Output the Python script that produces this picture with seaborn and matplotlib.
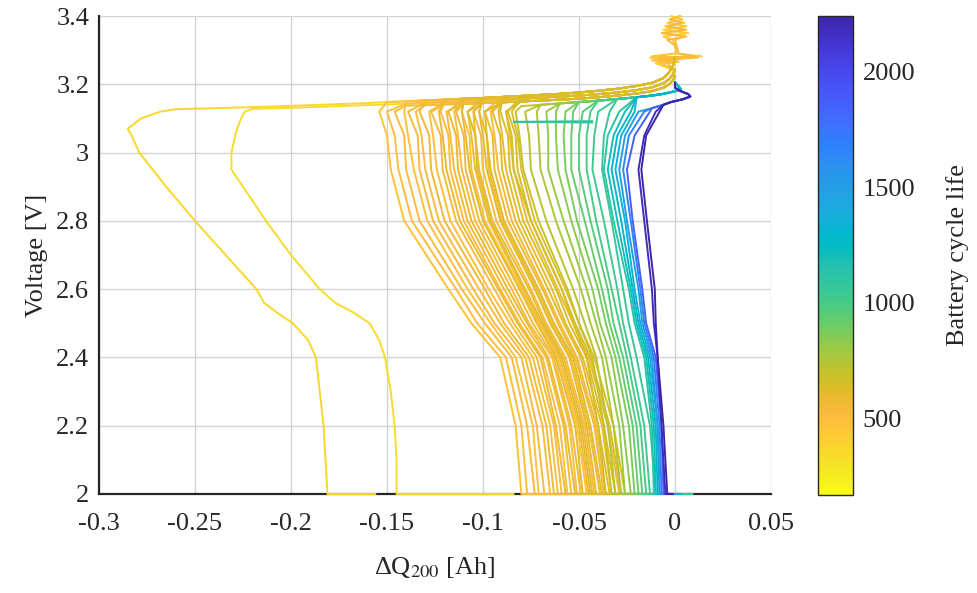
import numpy as np
import pandas as pd
import matplotlib
matplotlib.use("Agg")
import matplotlib.pyplot as plt
import seaborn as sns
from matplotlib.colors import LinearSegmentedColormap, Normalize
from matplotlib.cm import ScalarMappable

# ---------------- data ----------------
# two outlier cells (shortest lives), read on a finer voltage grid
OUTLIER_V = [2.0, 2.1, 2.2, 2.3, 2.4, 2.45, 2.5, 2.53, 2.56, 2.6, 2.7, 2.8, 2.9, 2.95, 3.0, 3.05, 3.07, 3.1, 3.12]
outlier_a_dq = [-0.181, -0.182, -0.183, -0.185, -0.187, -0.191, -0.199, -0.207, -0.214, -0.218, -0.234, -0.250,
                -0.265, -0.272, -0.279, -0.283, -0.285, -0.278, -0.268]
outlier_b_dq = [-0.145, -0.145, -0.146, -0.148, -0.151, -0.154, -0.159, -0.167, -0.177, -0.185, -0.200, -0.213,
                -0.225, -0.231, -0.231, -0.229, -0.228, -0.226, -0.224]
outlier_cycle = [350, 330]
outlier_tail_end = [-0.156, -0.084]

# main bundle, read at these voltage levels
V_LEVELS = [2.00, 2.20, 2.40, 2.50, 2.60, 2.80, 2.95, 3.05, 3.12]

cycle_life = [470, 500, 520, 480, 540, 510, 560, 490, 530, 575, 505, 545, 590, 520, 560, 600,
              480, 550, 615, 580, 530, 600, 560, 620, 570, 540, 610, 590, 630, 580, 650, 620,
              660, 700, 730, 760, 800, 840, 880, 920, 960, 1000, 1030, 1060,
              1120, 1200, 1280, 1350,
              1500, 1650, 1850,
              2237, 2180]

dq_v200 = [-0.080, -0.077, -0.073, -0.071, -0.068, -0.065, -0.063, -0.061, -0.059, -0.057, -0.056, -0.054, -0.052, -0.051, -0.049, -0.048,
           -0.046, -0.045, -0.044, -0.043, -0.042, -0.041, -0.039, -0.038, -0.037, -0.036, -0.034, -0.033, -0.031, -0.029, -0.028, -0.026,
           -0.036, -0.033, -0.031, -0.028, -0.026, -0.023, -0.021, -0.019, -0.017, -0.015, -0.013, -0.010,
           -0.011, -0.010, -0.009, -0.008,
           -0.008, -0.007, -0.006,
           -0.004, -0.005]
dq_v220 = [-0.083, -0.080, -0.077, -0.074, -0.072, -0.069, -0.067, -0.065, -0.063, -0.062, -0.060, -0.058, -0.057, -0.055, -0.054, -0.052,
           -0.051, -0.050, -0.049, -0.048, -0.047, -0.046, -0.045, -0.044, -0.042, -0.041, -0.040, -0.038, -0.037, -0.035, -0.034, -0.032,
           -0.040, -0.037, -0.035, -0.032, -0.029, -0.027, -0.024, -0.022, -0.020, -0.018, -0.016, -0.013,
           -0.012, -0.011, -0.010, -0.009,
           -0.009, -0.008, -0.007,
           -0.006, -0.007]
dq_v240 = [-0.091, -0.088, -0.085, -0.083, -0.080, -0.078, -0.076, -0.074, -0.072, -0.070, -0.069, -0.067, -0.066, -0.064, -0.063, -0.062,
           -0.061, -0.060, -0.059, -0.058, -0.057, -0.055, -0.054, -0.053, -0.052, -0.051, -0.049, -0.048, -0.046, -0.045, -0.044, -0.042,
           -0.046, -0.043, -0.041, -0.038, -0.036, -0.033, -0.031, -0.029, -0.027, -0.025, -0.023, -0.020,
           -0.016, -0.015, -0.014, -0.013,
           -0.012, -0.011, -0.010,
           -0.009, -0.009]
dq_v250 = [-0.106, -0.103, -0.099, -0.096, -0.094, -0.091, -0.089, -0.086, -0.084, -0.082, -0.081, -0.079, -0.077, -0.076, -0.074, -0.072,
           -0.071, -0.070, -0.069, -0.068, -0.067, -0.065, -0.064, -0.063, -0.061, -0.060, -0.058, -0.057, -0.055, -0.053, -0.052, -0.050,
           -0.053, -0.050, -0.047, -0.044, -0.041, -0.039, -0.036, -0.034, -0.032, -0.029, -0.027, -0.024,
           -0.021, -0.020, -0.019, -0.018,
           -0.017, -0.016, -0.015,
           -0.010, -0.011]
dq_v260 = [-0.118, -0.114, -0.111, -0.108, -0.105, -0.102, -0.099, -0.097, -0.094, -0.092, -0.091, -0.089, -0.087, -0.085, -0.083, -0.081,
           -0.080, -0.079, -0.078, -0.076, -0.075, -0.073, -0.072, -0.071, -0.069, -0.068, -0.066, -0.064, -0.062, -0.061, -0.059, -0.057,
           -0.059, -0.056, -0.053, -0.049, -0.046, -0.043, -0.040, -0.038, -0.035, -0.033, -0.030, -0.027,
           -0.024, -0.023, -0.022, -0.021,
           -0.019, -0.018, -0.017,
           -0.0105, -0.012]
dq_v280 = [-0.141, -0.137, -0.133, -0.129, -0.126, -0.123, -0.120, -0.117, -0.114, -0.112, -0.110, -0.108, -0.106, -0.104, -0.102, -0.100,
           -0.099, -0.097, -0.096, -0.095, -0.093, -0.091, -0.090, -0.089, -0.087, -0.085, -0.083, -0.081, -0.079, -0.077, -0.075, -0.073,
           -0.075, -0.071, -0.067, -0.062, -0.058, -0.054, -0.051, -0.047, -0.044, -0.041, -0.037, -0.033,
           -0.032, -0.030, -0.028, -0.026,
           -0.025, -0.023, -0.022,
           -0.0146, -0.016]
dq_v295 = [-0.148, -0.144, -0.140, -0.136, -0.133, -0.130, -0.127, -0.124, -0.121, -0.119, -0.117, -0.115, -0.113, -0.111, -0.109, -0.107,
           -0.106, -0.104, -0.103, -0.102, -0.100, -0.098, -0.097, -0.096, -0.094, -0.092, -0.090, -0.088, -0.086, -0.084, -0.082, -0.080,
           -0.084, -0.079, -0.075, -0.070, -0.066, -0.061, -0.057, -0.054, -0.050, -0.046, -0.043, -0.038,
           -0.037, -0.035, -0.033, -0.031,
           -0.029, -0.027, -0.025,
           -0.0175, -0.019]
dq_v305 = [-0.150, -0.146, -0.141, -0.139, -0.134, -0.132, -0.128, -0.126, -0.122, -0.121, -0.118, -0.117, -0.114, -0.113, -0.110, -0.109,
           -0.107, -0.106, -0.104, -0.104, -0.101, -0.100, -0.098, -0.098, -0.095, -0.094, -0.091, -0.090, -0.087, -0.086, -0.083, -0.082,
           -0.085, -0.081, -0.076, -0.071, -0.066, -0.062, -0.058, -0.054, -0.050, -0.046, -0.042, -0.037,
           -0.035, -0.032, -0.030, -0.028,
           -0.026, -0.024, -0.021,
           -0.015, -0.016]
dq_v312 = [-0.154, -0.150, -0.146, -0.141, -0.139, -0.135, -0.133, -0.128, -0.127, -0.123, -0.122, -0.119, -0.118, -0.115, -0.114, -0.111,
           -0.111, -0.108, -0.108, -0.105, -0.105, -0.102, -0.102, -0.099, -0.099, -0.096, -0.095, -0.092, -0.091, -0.088, -0.087, -0.085,
           -0.088, -0.083, -0.078, -0.072, -0.067, -0.062, -0.057, -0.053, -0.048, -0.044, -0.040, -0.034,
           -0.029, -0.026, -0.023, -0.021,
           -0.019, -0.016, -0.013,
           -0.008, -0.010]
# end of the horizontal run each curve makes along 2.0 V
dq_tail_end = [-0.073] + [-0.002] * 31 + [0.009] * 12 + [0.003] * 4 + [-0.002] * 3 + [-0.001] * 2

# converging upper part (band between 3.12 and 3.28 V): upper edge, middle, lower edge
ENV_Q = [-0.28, -0.26, -0.24, -0.22, -0.20, -0.18, -0.16, -0.15, -0.14, -0.13, -0.12, -0.11, -0.10,
         -0.09, -0.08, -0.07, -0.06, -0.05, -0.04, -0.03, -0.02, -0.012, -0.006, -0.003, -0.001, 0.0]
ENV_V_TOP = [3.124, 3.127, 3.130, 3.133, 3.137, 3.141, 3.145, 3.148, 3.150, 3.153, 3.155, 3.158, 3.160,
             3.163, 3.166, 3.169, 3.172, 3.176, 3.181, 3.187, 3.195, 3.204, 3.218, 3.235, 3.255, 3.280]
ENV_V_MID = [3.120, 3.122, 3.125, 3.128, 3.131, 3.135, 3.139, 3.141, 3.143, 3.146, 3.148, 3.150, 3.153,
             3.155, 3.158, 3.161, 3.164, 3.167, 3.171, 3.176, 3.183, 3.191, 3.203, 3.215, 3.230, 3.245]
ENV_V_LOW = [3.118, 3.120, 3.122, 3.124, 3.127, 3.130, 3.133, 3.135, 3.137, 3.139, 3.141, 3.143, 3.145,
             3.147, 3.150, 3.152, 3.155, 3.158, 3.162, 3.167, 3.173, 3.180, 3.190, 3.200, 3.212, 3.225]
GREEN_Q = [-0.09, -0.08, -0.07, -0.06, -0.05, -0.04, -0.03, -0.02, -0.012, -0.006, -0.002, 0.001, 0.003, 0.002, 0.0]
GREEN_V = [3.132, 3.136, 3.140, 3.144, 3.148, 3.152, 3.157, 3.162, 3.167, 3.172, 3.177, 3.181, 3.186, 3.193, 3.205]
BLUE_Q = [-0.012, -0.006, -0.002, 0.004, 0.008, 0.007, 0.003, 0.0, 0.0]
BLUE_V = [3.130, 3.140, 3.148, 3.156, 3.164, 3.171, 3.180, 3.190, 3.205]

# spiky traces above 3.24 V
TOP_V = [3.24, 3.262, 3.266, 3.270, 3.274, 3.278, 3.282, 3.29, 3.31, 3.33, 3.34, 3.35, 3.36, 3.37, 3.38, 3.39, 3.40]
top_dq_1 = [0.0, -0.010, 0.001, -0.011, 0.002, -0.013, 0.014, 0.001, 0.000, -0.001, -0.006, 0.007, -0.006, 0.006, -0.004, 0.004, -0.002]
top_dq_2 = [0.0, -0.007, 0.002, -0.012, 0.001, 0.012, -0.012, 0.000, 0.001, 0.000, 0.005, -0.007, 0.006, -0.005, 0.005, -0.003, 0.003]
top_dq_3 = [0.0, -0.004, 0.001, -0.009, 0.003, -0.008, 0.010, 0.002, 0.001, -0.004, 0.006, -0.006, 0.005, -0.004, 0.003, -0.002, 0.002]
top_cycle = [420, 470, 520]

# short horizontal glitch of one teal curve
GLITCH_Q = [-0.043, -0.084, -0.043]
GLITCH_V = [3.088, 3.090, 3.092]
glitch_cycle = 1100

X_TICKS = [-0.3, -0.25, -0.2, -0.15, -0.1, -0.05, 0, 0.05]
X_LABELS = ["-0.3", "-0.25", "-0.2", "-0.15", "-0.1", "-0.05", "0", "0.05"]
Y_TICKS = [2.0, 2.2, 2.4, 2.6, 2.8, 3.0, 3.2, 3.4]
Y_LABELS = ["2", "2.2", "2.4", "2.6", "2.8", "3", "3.2", "3.4"]
CB_TICKS = [500, 1000, 1500, 2000]
CB_MIN, CB_MAX = 168, 2241

# parula(64) colour table (reversed below)
PARULA = [
    (0.2422, 0.1504, 0.6603), (0.2504, 0.1650, 0.7076), (0.2578, 0.1818, 0.7511), (0.2647, 0.1978, 0.7952),
    (0.2706, 0.2147, 0.8364), (0.2751, 0.2342, 0.8710), (0.2783, 0.2559, 0.8991), (0.2803, 0.2782, 0.9221),
    (0.2813, 0.3006, 0.9414), (0.2810, 0.3228, 0.9579), (0.2795, 0.3447, 0.9717), (0.2760, 0.3667, 0.9829),
    (0.2699, 0.3892, 0.9906), (0.2602, 0.4123, 0.9952), (0.2440, 0.4358, 0.9988), (0.2206, 0.4603, 0.9973),
    (0.1963, 0.4847, 0.9892), (0.1834, 0.5074, 0.9798), (0.1786, 0.5289, 0.9682), (0.1764, 0.5499, 0.9520),
    (0.1687, 0.5703, 0.9359), (0.1540, 0.5902, 0.9218), (0.1460, 0.6091, 0.9079), (0.1380, 0.6276, 0.8973),
    (0.1248, 0.6459, 0.8883), (0.1113, 0.6635, 0.8763), (0.0952, 0.6798, 0.8598), (0.0689, 0.6948, 0.8394),
    (0.0297, 0.7082, 0.8163), (0.0036, 0.7203, 0.7917), (0.0067, 0.7312, 0.7660), (0.0433, 0.7411, 0.7394),
    (0.0964, 0.7500, 0.7120), (0.1408, 0.7584, 0.6842), (0.1717, 0.7670, 0.6554), (0.1938, 0.7758, 0.6251),
    (0.2161, 0.7843, 0.5923), (0.2470, 0.7918, 0.5567), (0.2906, 0.7973, 0.5188), (0.3406, 0.8008, 0.4789),
    (0.3909, 0.8029, 0.4354), (0.4456, 0.8024, 0.3909), (0.5044, 0.7993, 0.3480), (0.5616, 0.7942, 0.3045),
    (0.6174, 0.7876, 0.2612), (0.6720, 0.7793, 0.2227), (0.7242, 0.7698, 0.1910), (0.7738, 0.7598, 0.1646),
    (0.8203, 0.7498, 0.1535), (0.8634, 0.7406, 0.1596), (0.9035, 0.7330, 0.1774), (0.9393, 0.7288, 0.2100),
    (0.9728, 0.7298, 0.2394), (0.9956, 0.7434, 0.2371), (0.9970, 0.7659, 0.2199), (0.9952, 0.7893, 0.2028),
    (0.9892, 0.8136, 0.1885), (0.9786, 0.8386, 0.1766), (0.9676, 0.8639, 0.1643), (0.9610, 0.8890, 0.1537),
    (0.9597, 0.9135, 0.1423), (0.9628, 0.9373, 0.1265), (0.9691, 0.9606, 0.1064), (0.9769, 0.9839, 0.0805)]

# ---------------- build long table ----------------
rows = []
env_sets = [ENV_V_TOP, ENV_V_MID, ENV_V_LOW]


def add_curve(name, qs, vs, c, tail_end, eq, ev):
    xs = [tail_end] + list(qs)
    ys = [2.0] + list(vs)
    start = next(k for k, q in enumerate(eq) if q > qs[-1])
    xs += eq[start:]
    ys += ev[start:]
    for x, y in zip(xs, ys):
        rows.append((name, x, y, c))


add_curve("a", outlier_a_dq, OUTLIER_V, outlier_cycle[0], outlier_tail_end[0], ENV_Q, ENV_V_TOP)
add_curve("b", outlier_b_dq, OUTLIER_V, outlier_cycle[1], outlier_tail_end[1], ENV_Q, ENV_V_MID)

levels = [dq_v200, dq_v220, dq_v240, dq_v250, dq_v260, dq_v280, dq_v295, dq_v305, dq_v312]
n = len(cycle_life)
assert all(len(a) == n for a in levels) and len(dq_tail_end) == n
for i in range(n):
    c = cycle_life[i]
    qs = [lvl[i] for lvl in levels]
    if c >= 1400:
        eq, ev = BLUE_Q, BLUE_V
    elif c >= 700:
        eq, ev = GREEN_Q, GREEN_V
    else:
        eq, ev = ENV_Q, env_sets[i % 3]
    add_curve(f"c{i}", qs, V_LEVELS, c, dq_tail_end[i], eq, ev)

for j, (tq, tc) in enumerate(zip([top_dq_1, top_dq_2, top_dq_3], top_cycle)):
    for x, y in zip(tq, TOP_V):
        rows.append((f"t{j}", x, y, tc))
for x, y in zip(GLITCH_Q, GLITCH_V):
    rows.append(("g0", x, y, glitch_cycle))

df = pd.DataFrame(rows, columns=["curve", "dq", "v", "cycle"])

# ---------------- plot ----------------
sns.set_theme(style="white")
plt.rcParams.update({
    "font.family": ["Liberation Serif", "DejaVu Serif"],
    "mathtext.fontset": "stix",
    "axes.unicode_minus": False,
})

cmap = LinearSegmentedColormap.from_list("parula_r", PARULA[::-1])
norm = Normalize(vmin=CB_MIN, vmax=CB_MAX)

fig = plt.figure(figsize=(9.77, 5.93), dpi=100)
ax = fig.add_axes([0.1013, 0.167, 0.6878, 0.806])
cax = fig.add_axes([0.8373, 0.1653, 0.0358, 0.8077])

sns.lineplot(data=df, x="dq", y="v", hue="cycle", units="curve", estimator=None,
             sort=False, palette=cmap, hue_norm=norm, legend=False,
             linewidth=1.4, ax=ax, clip_on=False, zorder=3)

ax.set_xlim(-0.3, 0.05)
ax.set_ylim(2.0, 3.4)
ax.set_xticks(X_TICKS)
ax.set_xticklabels(X_LABELS)
ax.set_yticks(Y_TICKS)
ax.set_yticklabels(Y_LABELS)
ax.grid(True, color="#d4d4d4", linewidth=1.0)
ax.set_axisbelow(True)
for s in ["top", "right"]:
    ax.spines[s].set_visible(False)
for s in ["left", "bottom"]:
    ax.spines[s].set_color("#262626")
    ax.spines[s].set_linewidth(1.6)
ax.tick_params(axis="both", direction="in", length=5, width=1.3, color="#262626",
               labelsize=19, labelcolor="#262626")
ax.tick_params(axis="x", pad=14)
ax.tick_params(axis="y", pad=7)
ax.set_xlabel(r"ΔQ$_{200}$ [Ah]", fontsize=19, color="#262626", labelpad=14)
ax.set_ylabel("Voltage [V]", fontsize=19, color="#262626", labelpad=6)

sm = ScalarMappable(norm=norm, cmap=cmap)
cb = fig.colorbar(sm, cax=cax)
cb.set_ticks(CB_TICKS)
cb.ax.tick_params(direction="in", length=3, width=1.0, color="#262626",
                  labelsize=19, labelcolor="#262626", pad=7)
cb.outline.set_edgecolor("#262626")
cb.outline.set_linewidth(1.0)
cb.set_label("Battery cycle life", fontsize=19, color="#262626", labelpad=22)

fig.savefig("out.png", dpi=100)
